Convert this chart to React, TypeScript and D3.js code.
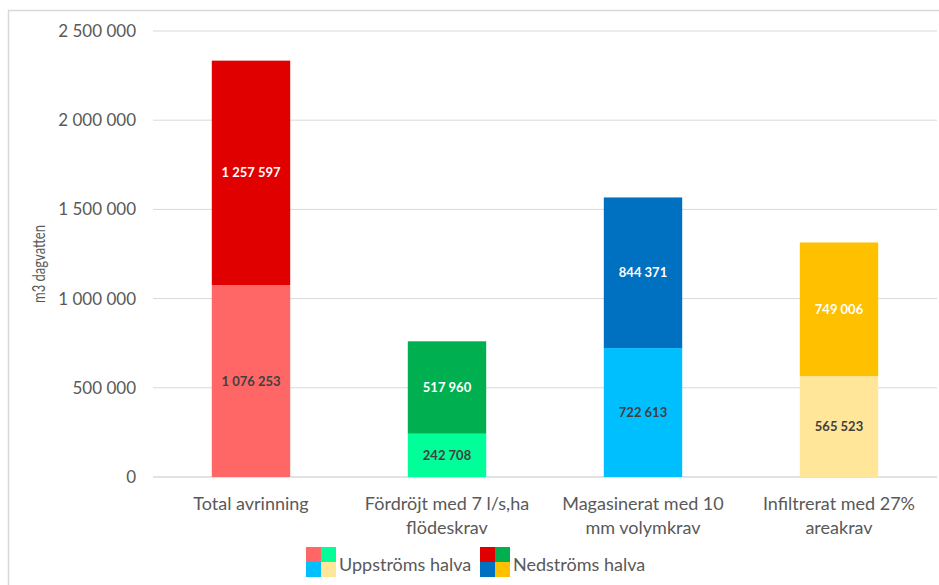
import React from "react";
import * as d3 from "d3";

const categories = [
  ["Total avrinning"],
  ["Fördröjt med 7 l/s,ha", "flödeskrav"],
  ["Magasinerat med 10", "mm volymkrav"],
  ["Infiltrerat med 27%", "areakrav"],
];
const upstream = [1076253, 242708, 722613, 565523];
const downstream = [1257597, 517960, 844371, 749006];
const upColors = ["#FF6666", "#00FF99", "#00BFFF", "#FFE699"];
const downColors = ["#E00000", "#00B050", "#0070C0", "#FFC000"];
const yTicks = [0, 500000, 1000000, 1500000, 2000000, 2500000];
const legendLabels = ["Uppströms halva", "Nedströms halva"];

const W = 939;
const H = 585;
const font = "Lato, 'Open Sans', sans-serif";

const fmt = (v: number) => {
  const s = String(Math.round(v));
  return s.replace(/\B(?=(\d{3})+(?!\d))/g, " ");
};

export default function App() {
  const left = 153;
  const right = 937;
  const top = 31;
  const bottom = 477;
  const x = d3
    .scaleBand<number>()
    .domain(d3.range(categories.length))
    .range([left, right])
    .paddingInner(0.6)
    .paddingOuter(0.3);
  const y = d3.scaleLinear().domain([0, 2500000]).range([bottom, top]);

  return (
    <svg
      width={W}
      height={H}
      style={{ position: "absolute", left: 0, top: 0, background: "#fff" }}
    >
      <rect x={8.5} y={10.5} width={940} height={600} fill="#fff" stroke="#D9D9D9" strokeWidth={1.5} />
      {yTicks.map((t) => (
        <g key={t}>
          <line x1={left} x2={right} y1={y(t)} y2={y(t)} stroke="#D9D9D9" strokeWidth={t === 0 ? 1.5 : 1} />
          <text x={136} y={y(t)} dy="0.35em" textAnchor="end" fontFamily={font} fontSize={17} fill="#595959">
            {fmt(t)}
          </text>
        </g>
      ))}
      <text
        transform={`translate(45, 264) rotate(-90)`}
        textAnchor="middle"
        fontFamily={font}
        fontSize={16.5}
        textLength={78}
        lengthAdjust="spacingAndGlyphs"
        fill="#595959"
      >
        m3 dagvatten
      </text>
      {categories.map((c, i) => {
        const bx = x(i)!;
        const bw = x.bandwidth();
        const u = upstream[i];
        const d = downstream[i];
        return (
          <g key={i}>
            <rect x={bx} y={y(u)} width={bw} height={y(0) - y(u)} fill={upColors[i]} />
            <rect x={bx} y={y(u + d)} width={bw} height={y(u) - y(u + d)} fill={downColors[i]} />
            <text
              x={bx + bw / 2}
              y={(y(0) + y(u)) / 2}
              dy="0.35em"
              textAnchor="middle"
              fontFamily={font}
              fontWeight="bold"
              fontSize={13}
              fill="#404040"
            >
              {fmt(u)}
            </text>
            <text
              x={bx + bw / 2}
              y={(y(u) + y(u + d)) / 2}
              dy="0.35em"
              textAnchor="middle"
              fontFamily={font}
              fontWeight="bold"
              fontSize={13}
              fill="#FFFFFF"
            >
              {fmt(d)}
            </text>
            {c.map((line, j) => (
              <text
                key={j}
                x={bx + bw / 2}
                y={504 + j * 24}
                dy="0.35em"
                textAnchor="middle"
                fontFamily={font}
                fontSize={18}
                fill="#595959"
              >
                {line}
              </text>
            ))}
          </g>
        );
      })}
      {[0, 1].map((k) => {
        const lx = k === 0 ? 306 : 480;
        const cols = k === 0 ? upColors : downColors;
        const s = 15;
        return (
          <g key={k}>
            <rect x={lx} y={547} width={s} height={s} fill={cols[0]} />
            <rect x={lx + s} y={547} width={s} height={s} fill={cols[1]} />
            <rect x={lx} y={547 + s} width={s} height={s} fill={cols[2]} />
            <rect x={lx + s} y={547 + s} width={s} height={s} fill={cols[3]} />
            <text x={lx + 33} y={565} dy="0.35em" fontFamily={font} fontSize={18} fill="#595959">
              {legendLabels[k]}
            </text>
          </g>
        );
      })}
    </svg>
  );
}
